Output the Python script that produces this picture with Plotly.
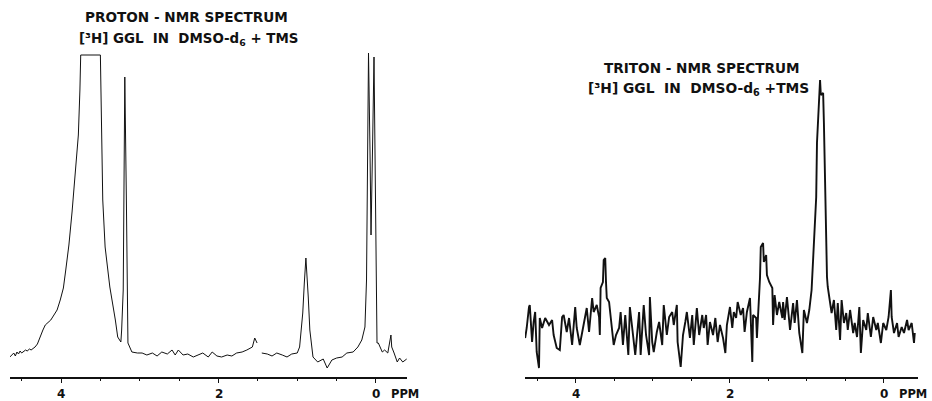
import plotly.graph_objects as go

# ---------------- data ----------------
# Proton NMR spectrum: chemical shift (ppm) and relative intensity
proton_ppm = [4.65, 4.62, 4.60, 4.58, 4.56, 4.54, 4.52, 4.50, 4.48, 4.45, 4.43, 4.40, 4.38, 4.35,
              4.33, 4.30, 4.27, 4.23, 4.20, 4.17, 4.13, 4.09, 4.05, 4.01, 3.97, 3.94, 3.90,
              3.86, 3.82, 3.78, 3.76, 3.75, 3.50, 3.49, 3.47, 3.44, 3.38, 3.31, 3.28, 3.24,
              3.23, 3.21, 3.20, 3.19, 3.17, 3.16, 3.15, 3.10, 3.03, 2.97, 2.91, 2.84, 2.78,
              2.72, 2.65, 2.59, 2.55, 2.51, 2.45, 2.39, 2.32, 2.26, 2.20, 2.13, 2.08, 2.02,
              1.96, 1.89, 1.83, 1.77, 1.70, 1.64, 1.57, 1.54, 1.51, None, 1.45, 1.38, 1.32,
              1.26, 1.19, 1.13, 1.07, 1.00, 0.97, 0.93, 0.91, 0.89, 0.86, 0.84, 0.80, 0.74,
              0.67, 0.62, 0.56, 0.50, 0.43, 0.37, 0.29, 0.23, 0.18, 0.14, 0.12, 0.11, 0.095,
              0.076, 0.063, 0.044, 0.025, 0.006, -0.013, -0.03, -0.08, -0.11, -0.15, -0.19,
              -0.20, -0.23, -0.27, -0.30, -0.34, -0.39]
proton_int = [20, 22, 24, 21, 25, 23, 26, 24, 25, 27, 26, 28, 27, 29,
              30, 33, 40, 47, 52, 54, 57, 62, 67, 77, 89, 107, 132,
              165, 202, 242, 287, 322, 322, 277, 177, 130, 90, 57, 40, 35,
              47, 87, 177, 300, 177, 47, 34, 25, 24, 24, 22, 24, 21,
              25, 23, 27, 22, 27, 22, 23, 20, 22, 24, 20, 25, 21,
              20, 22, 21, 24, 25, 27, 30, 39, 34, None, 24, 23, 21,
              24, 22, 20, 23, 24, 30, 64, 94, 119, 80, 47, 20, 15,
              18, 9, 17, 19, 20, 24, 25, 30, 37, 50, 97, 227, 324,
              227, 142, 227, 320, 177, 34, 34, 25, 27, 24, 42,
              30, 24, 15, 19, 15, 18]

# Triton NMR spectrum: chemical shift (ppm) and relative intensity
triton_ppm = [4.66, 4.64, 4.61, 4.60, 4.57, 4.55, 4.53, 4.51, 4.48, 4.47, 4.44, 4.40, 4.35, 4.31,
              4.29, 4.25, 4.21, 4.18, 4.16, 4.12, 4.09, 4.05, 4.01, 3.99, 3.95, 3.90, 3.86,
              3.83, 3.79, 3.77, 3.73, 3.70, 3.69, 3.68, 3.65, 3.64, 3.62, 3.61, 3.60, 3.57,
              3.55, 3.52, 3.51, 3.48, 3.44, 3.42, 3.39, 3.36, 3.32, 3.30, 3.27, 3.23, 3.18,
              3.16, 3.12, 3.09, 3.05, 3.04, 3.01, 2.99, 2.95, 2.92, 2.88, 2.86, 2.82, 2.79,
              2.75, 2.73, 2.69, 2.68, 2.64, 2.61, 2.58, 2.56, 2.52, 2.49, 2.47, 2.43, 2.40,
              2.36, 2.34, 2.31, 2.29, 2.26, 2.22, 2.19, 2.16, 2.13, 2.09, 2.06, 2.04, 2.00,
              1.97, 1.95, 1.92, 1.90, 1.86, 1.83, 1.81, 1.78, 1.74, 1.71, 1.70, 1.66, 1.65,
              1.62, 1.61, 1.60, 1.57, 1.56, 1.53, 1.52, 1.49, 1.45, 1.44, 1.42, 1.39, 1.36,
              1.32, 1.31, 1.29, 1.26, 1.22, 1.18, 1.16, 1.13, 1.10, 1.06, 1.04, 1.00, 0.97,
              0.94, 0.91, 0.88, 0.87, 0.84, 0.83, 0.82, 0.79, 0.78, 0.77, 0.75, 0.74, 0.73,
              0.70, 0.68, 0.65, 0.62, 0.60, 0.57, 0.55, 0.52, 0.49, 0.47, 0.44, 0.40, 0.38,
              0.35, 0.32, 0.30, 0.27, 0.23, 0.21, 0.17, 0.14, 0.10, 0.08, 0.04, 0.01, -0.03,
              -0.06, -0.09, -0.10, -0.13, -0.17, -0.19, -0.23, -0.26, -0.30, -0.32, -0.36,
              -0.39, -0.40]
triton_int = [39, 49, 70, 72, 35, 55, 65, 25, 9, 59, 49, 59, 52, 57,
              42, 29, 27, 60, 62, 45, 59, 32, 70, 49, 32, 52, 69,
              45, 79, 65, 72, 60, 42, 89, 95, 117, 119, 95, 79, 75,
              62, 42, 32, 42, 49, 65, 32, 62, 22, 70, 49, 22, 65,
              22, 72, 42, 22, 80, 35, 25, 45, 55, 32, 72, 42, 60,
              65, 52, 72, 35, 10, 42, 55, 65, 39, 62, 32, 69, 42,
              62, 49, 62, 32, 55, 42, 59, 35, 52, 39, 24, 52, 70,
              49, 65, 59, 75, 62, 69, 45, 65, 79, 15, 62, 59, 39,
              82, 99, 130, 134, 115, 122, 102, 95, 89, 52, 82, 62, 75,
              59, 75, 57, 80, 47, 74, 54, 77, 44, 24, 67, 54, 67,
              87, 127, 180, 234, 274, 297, 282, 284, 254, 207, 157, 100, 90,
              74, 64, 77, 47, 74, 37, 77, 54, 64, 47, 67, 44, 54,
              40, 70, 24, 57, 47, 64, 40, 60, 47, 54, 34, 54, 47,
              60, 87, 60, 44, 54, 40, 50, 44, 57, 47, 54,
              34, 44]

major_ticks = [4, 2, 0]
major_labels = ["4", "2", "0"]
unit_label = "PPM"

titles_left = ["PROTON - NMR SPECTRUM", "[³H] GGL  IN  DMSO-d<sub>6</sub> + TMS"]
titles_right = ["TRITON - NMR SPECTRUM", "[³H] GGL  IN  DMSO-d<sub>6</sub> +TMS"]

# ---------------- figure ----------------
W, H = 932, 401
FONT = "DejaVu Sans"
INK = "#111111"

fig = go.Figure()
fig.add_trace(go.Scatter(x=proton_ppm, y=proton_int, mode="lines", xaxis="x", yaxis="y",
                         line=dict(color=INK, width=1.0), connectgaps=False, showlegend=False))
fig.add_trace(go.Scatter(x=triton_ppm, y=triton_int, mode="lines", xaxis="x2", yaxis="y2",
                         line=dict(color=INK, width=1.9), showlegend=False))

axis_y0 = 377  # pixel row of the axis line
ydom = [(H - axis_y0) / H, 1.0]

def xaxis(dom, rng, anchor):
    return dict(domain=dom, range=rng, anchor=anchor, showline=True, linecolor=INK, linewidth=1.6,
                showgrid=False, zeroline=False, ticks="outside", ticklen=4, tickwidth=1.2,
                tickcolor=INK, tickvals=major_ticks, showticklabels=False,
                minor=dict(dtick=0.5, ticks="outside", ticklen=2, tickwidth=1, tickcolor=INK),
                automargin=False, fixedrange=True)

def yaxis(anchor):
    return dict(domain=ydom, range=[0, axis_y0], anchor=anchor, visible=False, fixedrange=True)

fig.update_layout(
    width=W, height=H, margin=dict(l=0, r=0, t=0, b=0),
    paper_bgcolor="white", plot_bgcolor="white",
    xaxis=xaxis([10 / W, 407 / W], [4.648, -0.394], "y"),
    yaxis=yaxis("x"),
    xaxis2=xaxis([525 / W, 918 / W], [4.662, -0.442], "y2"),
    yaxis2=yaxis("x2"),
)

def label(text, xpx, ypx, size):
    fig.add_annotation(text=text, x=xpx / W, y=1 - ypx / H, xref="paper", yref="paper",
                       showarrow=False, xanchor="center", yanchor="middle",
                       font=dict(family=FONT, size=size, color=INK, weight="bold"))

label(titles_left[0], 186, 17, 13.6)
label(titles_left[1], 188, 39, 13.4)
label(titles_right[0], 702, 68, 13.6)
label(titles_right[1], 698, 89, 13.8)

# tick labels placed on the data scale of each axis
for xref in ("x", "x2"):
    for v, t in zip(major_ticks, major_labels):
        fig.add_annotation(text=t, x=v, xref=xref, y=1 - 394 / H, yref="paper",
                           showarrow=False, xanchor="center", yanchor="middle",
                           font=dict(family=FONT, size=12, color=INK, weight="bold"))
    fig.add_annotation(text=unit_label, x=0, xref=xref, xshift=29, y=1 - 394 / H, yref="paper",
                       showarrow=False, xanchor="center", yanchor="middle",
                       font=dict(family=FONT, size=11.5, color=INK, weight="bold"))

fig.write_html("out.html", config={"displayModeBar": False},
               post_script="document.body.style.margin='0';")
